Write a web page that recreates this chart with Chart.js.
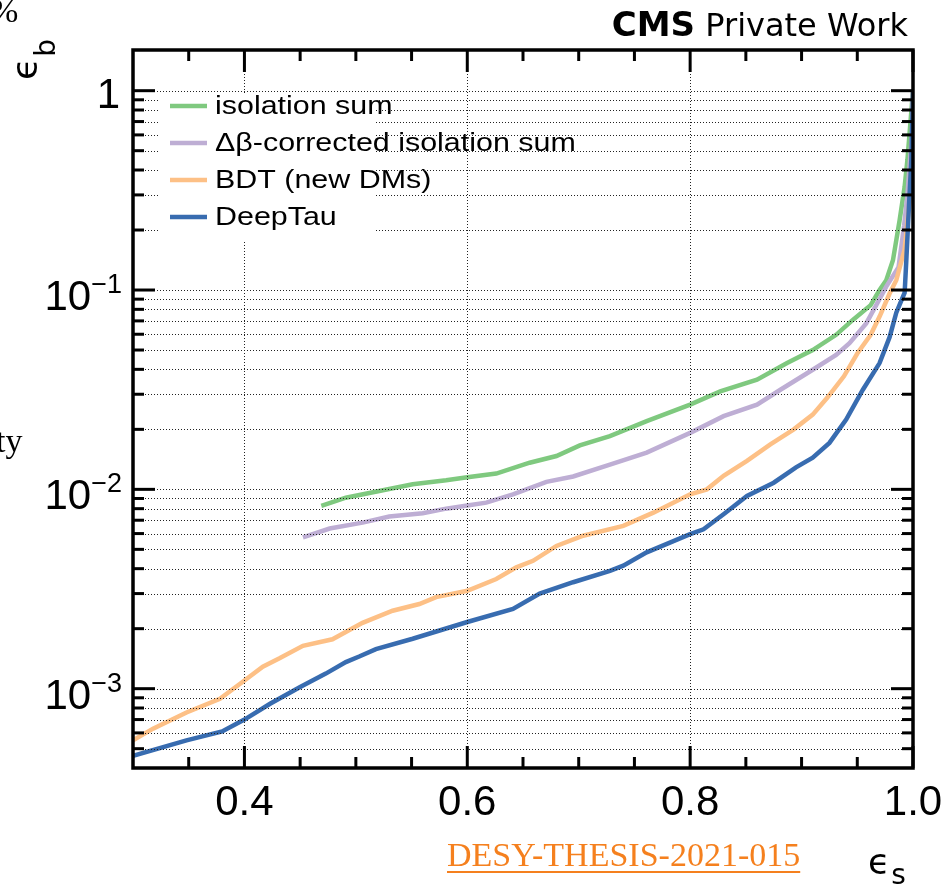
<!DOCTYPE html>
<html>
<head>
<meta charset="utf-8">
<script src="https://cdn.jsdelivr.net/npm/chart.js@4.4.1/dist/chart.umd.min.js"></script>
<style>
  html, body { margin: 0; padding: 0; background: #fff; }
  #wrap { width: 945px; height: 886px; position: relative; }
</style>
</head>
<body>
<div id="wrap"><canvas id="roc" width="945" height="886"></canvas></div>
<script>
// signal efficiency (x) and background efficiency (y)
const isoX = [0.469, 0.491, 0.521, 0.551, 0.581, 0.600, 0.626, 0.656, 0.680, 0.701, 0.728, 0.761, 0.800, 0.827, 0.860, 0.887, 0.910, 0.931, 0.946, 0.962, 0.970, 0.976, 0.982, 0.988, 0.9925, 0.995, 1.000];
const isoY = [8.26e-3, 9.08e-3, 9.81e-3, 1.06e-2, 1.11e-2, 1.15e-2, 1.20e-2, 1.36e-2, 1.47e-2, 1.66e-2, 1.85e-2, 2.2e-2, 2.66e-2, 3.1e-2, 3.55e-2, 4.3e-2, 5.0e-2, 5.96e-2, 7.08e-2, 8.4e-2, 0.1, 0.112, 0.141, 0.224, 0.33, 0.45, 1.0];

const dbX = [0.4525, 0.4765, 0.506, 0.530, 0.560, 0.581, 0.600, 0.617, 0.641, 0.671, 0.695, 0.728, 0.761, 0.800, 0.830, 0.860, 0.881, 0.910, 0.931, 0.943, 0.958, 0.967, 0.976, 0.987, 0.992, 0.995, 0.999, 1.000];
const dbY = [5.74e-3, 6.36e-3, 6.81e-3, 7.3e-3, 7.59e-3, 8.0e-3, 8.3e-3, 8.58e-3, 9.44e-3, 1.09e-2, 1.16e-2, 1.33e-2, 1.53e-2, 1.92e-2, 2.33e-2, 2.66e-2, 3.16e-2, 3.98e-2, 4.73e-2, 5.41e-2, 6.8e-2, 8.4e-2, 0.104, 0.13, 0.21, 0.30, 0.6, 1.0];

const bdtX = [0.300, 0.318, 0.348, 0.378, 0.400, 0.4165, 0.4315, 0.4525, 0.479, 0.506, 0.533, 0.557, 0.572, 0.600, 0.626, 0.644, 0.659, 0.680, 0.704, 0.740, 0.767, 0.800, 0.815, 0.830, 0.851, 0.872, 0.893, 0.910, 0.923, 0.938, 0.950, 0.962, 0.970, 0.979, 0.985, 0.9925, 0.997, 0.9995, 1.000];
const bdtY = [5.5e-4, 6.3e-4, 7.6e-4, 8.9e-4, 1.10e-3, 1.29e-3, 1.42e-3, 1.64e-3, 1.77e-3, 2.14e-3, 2.46e-3, 2.66e-3, 2.88e-3, 3.1e-3, 3.55e-3, 4.06e-3, 4.38e-3, 5.2e-3, 5.85e-3, 6.56e-3, 7.64e-3, 9.44e-3, 1.0e-2, 1.17e-2, 1.39e-2, 1.68e-2, 2.0e-2, 2.37e-2, 2.88e-2, 3.69e-2, 4.8e-2, 5.96e-2, 7.36e-2, 9.6e-2, 0.112, 0.16, 0.28, 0.6, 1.0];

const dtX = [0.300, 0.348, 0.380, 0.400, 0.423, 0.450, 0.473, 0.491, 0.503, 0.518, 0.551, 0.600, 0.641, 0.665, 0.695, 0.728, 0.740, 0.761, 0.800, 0.812, 0.830, 0.851, 0.875, 0.895, 0.910, 0.925, 0.940, 0.955, 0.970, 0.979, 0.985, 0.9925, 0.994, 0.996, 0.9985, 1.000];
const dtY = [4.6e-4, 5.5e-4, 6.1e-4, 7.0e-4, 8.4e-4, 1.02e-3, 1.19e-3, 1.36e-3, 1.45e-3, 1.58e-3, 1.78e-3, 2.16e-3, 2.51e-3, 3.0e-3, 3.42e-3, 3.9e-3, 4.14e-3, 4.83e-3, 5.96e-3, 6.3e-3, 7.5e-3, 9.26e-3, 1.08e-2, 1.29e-2, 1.44e-2, 1.71e-2, 2.24e-2, 3.16e-2, 4.3e-2, 5.8e-2, 7.7e-2, 9.7e-2, 0.141, 0.24, 0.45, 1.0];

const seriesNames = ['isolation sum', '\u0394\u03b2-corrected isolation sum', 'BDT (new DMs)', 'DeepTau'];
const seriesColors = ['#7fc97f', '#beaed4', '#fdc086', '#386cb0'];

// axis ticks
const xMajor = [0.4, 0.6, 0.8, 1.0];
const xMajorLabels = ['0.4', '0.6', '0.8', '1.0'];
const xMinor = [0.35, 0.45, 0.5, 0.55, 0.65, 0.7, 0.75, 0.85, 0.9, 0.95];
const xGrid = [0.4, 0.6, 0.8];
const yMajor = [1, 0.1, 0.01, 0.001];
const yMajorExp = ['', '\u22121', '\u22122', '\u22123'];
const yMinor = [0.9, 0.8, 0.7, 0.6, 0.5, 0.4, 0.3, 0.2,
  0.09, 0.08, 0.07, 0.06, 0.05, 0.04, 0.03, 0.02,
  0.009, 0.008, 0.007, 0.006, 0.005, 0.004, 0.003, 0.002,
  0.0009, 0.0008, 0.0007, 0.0006, 0.0005];

const toPts = (xs, ys) => xs.map((x, i) => ({ x: x, y: ys[i] }));
const seriesData = [toPts(isoX, isoY), toPts(dbX, dbY), toPts(bdtX, bdtY), toPts(dtX, dtY)];

const legendBox = { x1: 160, y1: 93, x2: 375, y2: 240 };

const rootStyle = {
  id: 'rootStyle',
  afterDatasetsDraw(chart) {
    const ctx = chart.ctx;
    const a = chart.chartArea;
    const xs = chart.scales.x, ys = chart.scales.y;

    // legend (white box, then entries)
    ctx.save();
    ctx.fillStyle = '#fff';
    ctx.fillRect(legendBox.x1, legendBox.y1, legendBox.x2 - legendBox.x1, legendBox.y2 - legendBox.y1);
    ctx.font = '26px "Liberation Sans", Arial, sans-serif';
    ctx.textBaseline = 'middle';
    chart.data.datasets.forEach((ds, i) => {
      const yy = 106 + i * 37;
      ctx.strokeStyle = ds.borderColor;
      ctx.lineWidth = 4.5;
      ctx.beginPath();
      ctx.moveTo(170, yy);
      ctx.lineTo(207, yy);
      ctx.stroke();
      ctx.fillStyle = '#000';
      ctx.save();
      ctx.translate(215, yy + 1);
      ctx.scale(1.17, 1);
      ctx.fillText(ds.label, 0, 0);
      ctx.restore();
    });
    ctx.restore();

    // dotted grid, drawn over the curves but not inside the legend box
    ctx.save();
    ctx.beginPath();
    ctx.rect(a.left, a.top, a.right - a.left, a.bottom - a.top);
    ctx.rect(legendBox.x2, legendBox.y1, legendBox.x1 - legendBox.x2, legendBox.y2 - legendBox.y1);
    ctx.clip('evenodd');
    ctx.strokeStyle = '#222';
    ctx.lineWidth = 1;
    ctx.setLineDash([1, 2]);
    xGrid.forEach(v => {
      const px = Math.round(xs.getPixelForValue(v)) + 0.5;
      ctx.beginPath(); ctx.moveTo(px, a.top); ctx.lineTo(px, a.bottom); ctx.stroke();
    });
    yMajor.concat(yMinor).forEach(v => {
      const py = Math.round(ys.getPixelForValue(v)) + 0.5;
      ctx.beginPath(); ctx.moveTo(a.left, py); ctx.lineTo(a.right, py); ctx.stroke();
    });
    ctx.restore();

    // frame and inward ticks on all four sides
    ctx.save();
    ctx.strokeStyle = '#000';
    ctx.lineWidth = 3;
    ctx.lineCap = 'butt';
    const tick = (x1, y1, x2, y2) => { ctx.beginPath(); ctx.moveTo(x1, y1); ctx.lineTo(x2, y2); ctx.stroke(); };
    xMajor.forEach(v => {
      const px = xs.getPixelForValue(v);
      tick(px, a.bottom, px, a.bottom - 22);
      tick(px, a.top, px, a.top + 22);
    });
    xMinor.forEach(v => {
      const px = xs.getPixelForValue(v);
      tick(px, a.bottom, px, a.bottom - 11);
      tick(px, a.top, px, a.top + 11);
    });
    yMajor.forEach(v => {
      const py = ys.getPixelForValue(v);
      tick(a.left, py, a.left + 22, py);
      tick(a.right, py, a.right - 22, py);
    });
    yMinor.forEach(v => {
      const py = ys.getPixelForValue(v);
      tick(a.left, py, a.left + 11, py);
      tick(a.right, py, a.right - 11, py);
    });
    ctx.lineWidth = 3.5;
    ctx.strokeRect(a.left, a.top, a.right - a.left, a.bottom - a.top);
    ctx.restore();
  },
  afterDraw(chart) {
    const ctx = chart.ctx;
    const a = chart.chartArea;
    const xs = chart.scales.x, ys = chart.scales.y;
    ctx.save();
    ctx.fillStyle = '#000';

    // x tick labels
    ctx.font = '42px "Liberation Sans", Arial, sans-serif';
    ctx.textAlign = 'center';
    ctx.textBaseline = 'alphabetic';
    xMajor.forEach((v, i) => ctx.fillText(xMajorLabels[i], xs.getPixelForValue(v), a.bottom + 47));

    // y tick labels (10^k)
    yMajor.forEach((v, i) => {
      const py = ys.getPixelForValue(v);
      ctx.textAlign = 'right';
      if (yMajorExp[i] === '') {
        ctx.font = '42px "Liberation Sans", Arial, sans-serif';
        ctx.fillText('1', 120, py + 17);
      } else {
        ctx.font = '27px "Liberation Sans", Arial, sans-serif';
        const w = ctx.measureText(yMajorExp[i]).width;
        ctx.fillText(yMajorExp[i], 122, py + 3);
        ctx.font = '42px "Liberation Sans", Arial, sans-serif';
        ctx.fillText('10', 122 - w, py + 20);
      }
    });

    // axis titles
    ctx.textAlign = 'left';
    ctx.save();
    ctx.translate(37, 80);
    ctx.rotate(-Math.PI / 2);
    ctx.font = '36px "DejaVu Sans", sans-serif';
    ctx.fillText('\u03f5', 0, 0);
    const we = ctx.measureText('\u03f5').width;
    ctx.font = '28px "DejaVu Sans", sans-serif';
    ctx.fillText('b', we + 1, 18);
    ctx.restore();

    ctx.font = '36px "DejaVu Sans", sans-serif';
    ctx.fillText('\u03f5', 868, 874);
    const wx = ctx.measureText('\u03f5').width;
    ctx.font = '28px "DejaVu Sans", sans-serif';
    ctx.fillText('s', 868 + wx + 1, 884);

    // experiment label
    ctx.textAlign = 'right';
    ctx.font = '32px "DejaVu Sans", sans-serif';
    ctx.fillText('Private Work', 908, 36);
    const wp = ctx.measureText('Private Work ').width;
    ctx.font = 'bold 34px "DejaVu Sans", sans-serif';
    ctx.fillText('CMS', 908 - wp, 36);

    // page fragments around the figure
    ctx.textAlign = 'left';
    ctx.font = '34px "Liberation Serif", "Times New Roman", serif';
    ctx.fillText('%', -10, 22);
    ctx.fillText('ty', -4, 452);
    ctx.fillStyle = '#f5801e';
    ctx.fillText('DESY-THESIS-2021-015', 447, 866);
    const wd = ctx.measureText('DESY-THESIS-2021-015').width;
    ctx.fillRect(447, 871, wd, 2);
    ctx.restore();
  }
};

new Chart(document.getElementById('roc'), {
  type: 'line',
  data: {
    datasets: seriesNames.map((name, i) => ({
      label: name,
      data: seriesData[i],
      borderColor: seriesColors[i],
      backgroundColor: seriesColors[i],
      borderWidth: 4.5,
      pointRadius: 0,
      fill: false,
      tension: 0,
      order: seriesNames.length - i
    }))
  },
  options: {
    responsive: false,
    animation: false,
    devicePixelRatio: 1,
    layout: { padding: { left: 133, right: 32, top: 50, bottom: 118 } },
    plugins: { legend: { display: false }, tooltip: { enabled: false } },
    scales: {
      x: { type: 'linear', min: 0.3, max: 1.0, display: false },
      y: { type: 'logarithmic', min: 4e-4, max: 1.6, display: false }
    }
  },
  plugins: [rootStyle]
});
</script>
</body>
</html>
